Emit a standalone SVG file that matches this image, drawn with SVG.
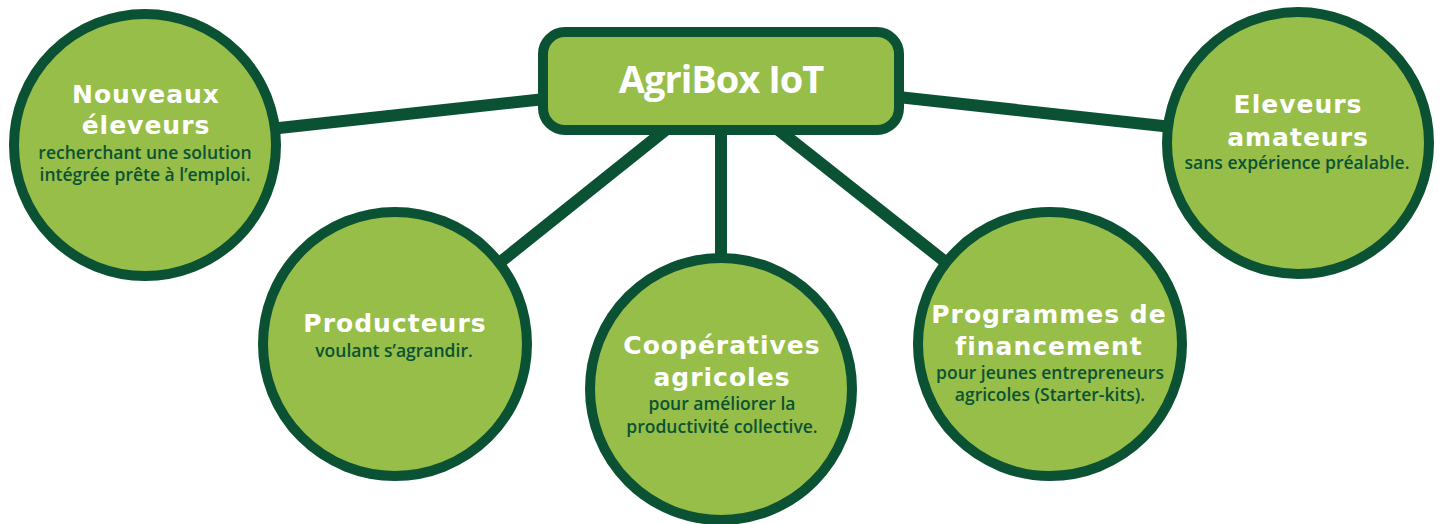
<svg xmlns="http://www.w3.org/2000/svg" width="1443" height="524" viewBox="0 0 1443 524">
<style>
.conn{stroke:#0b5234;stroke-width:12;fill:none}
.node{fill:#96be48;stroke:#0b5234;stroke-width:10}
.h{font-family:"DejaVu Sans",Verdana,sans-serif;font-weight:700;font-size:25px;fill:#ffffff;text-anchor:middle;letter-spacing:1px}
.s{font-family:"Open Sans","Liberation Sans",sans-serif;font-weight:600;font-size:17.5px;fill:#0b5234;text-anchor:middle}
.t{font-family:"Open Sans","Liberation Sans",sans-serif;font-weight:700;font-size:38px;fill:#ffffff;text-anchor:middle;letter-spacing:-1px}
</style>
<rect width="1443" height="524" fill="#ffffff"/>
<g id="connectors">
<line class="conn" x1="545" y1="99" x2="270" y2="129"/>
<line class="conn" x1="898" y1="97" x2="1172" y2="127"/>
<line class="conn" x1="668" y1="128" x2="498" y2="264"/>
<line class="conn" x1="721" y1="130" x2="721" y2="258"/>
<line class="conn" x1="776" y1="128" x2="948" y2="264"/>
</g>
<g id="hub">
<rect class="node" x="543" y="32" width="356" height="98" rx="22"/>
<text class="t" x="721" y="93">AgriBox IoT</text>
</g>
<g id="nouveaux">
<circle class="node" cx="145" cy="145" r="131"/>
<text class="h" x="146" y="103">Nouveaux</text>
<text class="h" x="146" y="134">éleveurs</text>
<text class="s" x="145" y="159">recherchant une solution</text>
<text class="s" x="145" y="181">intégrée prête à l’emploi.</text>
</g>
<g id="producteurs">
<circle class="node" cx="395" cy="344" r="132"/>
<text class="h" x="395" y="332">Producteurs</text>
<text class="s" x="394" y="357">voulant s’agrandir.</text>
</g>
<g id="cooperatives">
<circle class="node" cx="721" cy="389" r="131"/>
<text class="h" x="722" y="354">Coopératives</text>
<text class="h" x="722" y="386">agricoles</text>
<text class="s" x="722" y="410">pour améliorer la</text>
<text class="s" x="722" y="433">productivité collective.</text>
</g>
<g id="programmes">
<circle class="node" cx="1050" cy="344" r="132"/>
<text class="h" x="1049" y="323">Programmes de</text>
<text class="h" x="1049" y="355">financement</text>
<text class="s" x="1050" y="379">pour jeunes entrepreneurs</text>
<text class="s" x="1050" y="401">agricoles (Starter-kits).</text>
</g>
<g id="amateurs">
<circle class="node" cx="1298" cy="143" r="131"/>
<text class="h" x="1298" y="113">Eleveurs</text>
<text class="h" x="1298" y="146">amateurs</text>
<text class="s" x="1297" y="169">sans expérience préalable.</text>
</g>
</svg>
